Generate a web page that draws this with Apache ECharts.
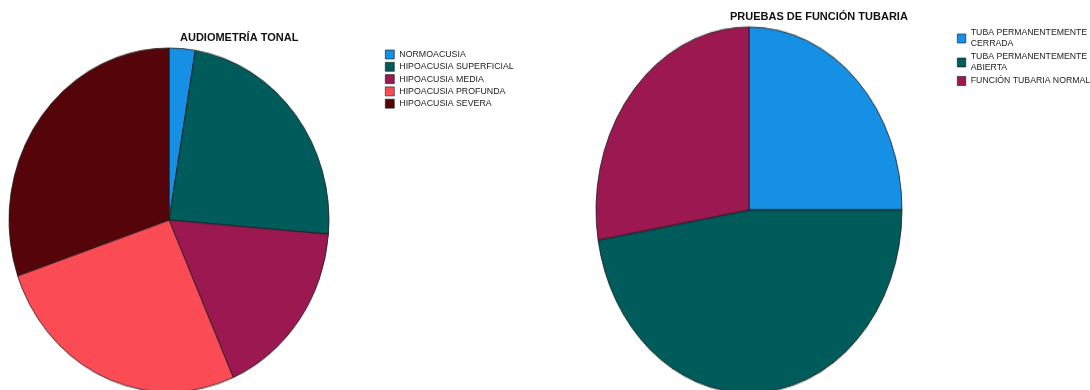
<!DOCTYPE html>
<html>
<head>
<meta charset="utf-8">
<script src="https://cdn.jsdelivr.net/npm/echarts@6/dist/echarts.min.js"></script>
<style>
  html, body { margin: 0; padding: 0; background: #ffffff; }
  #stage { position: relative; width: 1090px; height: 390px; overflow: hidden; }
  .pie { position: absolute; transform-origin: 50% 50%; }
  #pieA { left: -1px; top: 50px; width: 340px; height: 340px; transform: scaleY(1.075); }
  #pieB { left: 589px; top: 50px; width: 320px; height: 320px; transform: scaleY(1.196); }
  #overlay { position: absolute; left: 0; top: 0; width: 1090px; height: 390px; pointer-events: none; }
</style>
</head>
<body>
<div id="stage">
  <div id="pieA" class="pie"></div>
  <div id="pieB" class="pie"></div>
  <div id="overlay"></div>
</div>
<script>
// Audiometría tonal (number of cases per category)
const audioCategories = ['NORMOACUSIA', 'HIPOACUSIA SUPERFICIAL', 'HIPOACUSIA MEDIA', 'HIPOACUSIA PROFUNDA', 'HIPOACUSIA SEVERA'];
const audioValues = [2, 18, 13, 20, 23];
const audioColors = ['#1590e4', '#005b5b', '#9b1850', '#fb4c56', '#55050a'];

// Pruebas de función tubaria (number of cases per category)
const tubaCategories = ['TUBA PERMANENTEMENTE\nCERRADA', 'TUBA PERMANENTEMENTE\nABIERTA', 'FUNCIÓN TUBARIA NORMAL'];
const tubaValues = [19, 36, 21];
const tubaColors = ['#1590e4', '#005b5b', '#9b1850'];

const titles = ['AUDIOMETRÍA TONAL', 'PRUEBAS DE FUNCIÓN TUBARIA'];

const FONT = '"Liberation Sans", Arial, sans-serif';

function toData(names, values, colors) {
  return names.map((n, i) => ({ name: n, value: values[i], itemStyle: { color: colors[i] } }));
}

function pieSeries(names, values, colors, extra) {
  return Object.assign({
    type: 'pie',
    startAngle: 90,
    clockwise: true,
    label: { show: false },
    labelLine: { show: false },
    emphasis: { disabled: true },
    animation: false,
    itemStyle: { borderColor: '#1a1a1a', borderWidth: 0.8 },
    data: toData(names, values, colors)
  }, extra);
}

// Visible pies (each in its own container, stretched vertically by CSS)
const chartA = echarts.init(document.getElementById('pieA'), null, { renderer: 'canvas' });
chartA.setOption({
  animation: false,
  series: [pieSeries(audioCategories, audioValues, audioColors, { center: [170, 170], radius: 160 })]
});

const chartB = echarts.init(document.getElementById('pieB'), null, { renderer: 'canvas' });
chartB.setOption({
  animation: false,
  series: [pieSeries(tubaCategories, tubaValues, tubaColors, { center: [160, 160], radius: 153 })]
});

// Titles and legends on an undistorted layer; its pie series only feed the legends
const overlay = echarts.init(document.getElementById('overlay'));
overlay.setOption({
  animation: false,
  title: [
    { text: titles[0], left: 180, top: 31, padding: 0,
      textStyle: { fontFamily: FONT, fontSize: 11, fontWeight: 'bold', color: '#111', lineHeight: 13 } },
    { text: titles[1], left: 730, top: 10.5, padding: 0,
      textStyle: { fontFamily: FONT, fontSize: 11, fontWeight: 'bold', color: '#111', lineHeight: 13 } }
  ],
  legend: [
    {
      data: audioCategories,
      orient: 'vertical',
      left: 385, top: 48.5, padding: 0,
      itemWidth: 9, itemHeight: 9, itemGap: 0.3,
      icon: 'rect',
      selectedMode: false,
      itemStyle: { borderColor: '#1a1a1a', borderWidth: 0.6 },
      textStyle: { fontFamily: FONT, fontSize: 8.8, color: '#222', lineHeight: 12 }
    },
    {
      data: tubaCategories,
      orient: 'vertical',
      left: 957, top: 27.5, padding: 0,
      itemWidth: 8.5, itemHeight: 9, itemGap: 2,
      icon: 'rect',
      selectedMode: false,
      itemStyle: { borderColor: '#1a1a1a', borderWidth: 0.6 },
      textStyle: { fontFamily: FONT, fontSize: 8.7, color: '#222', lineHeight: 11 }
    }
  ],
  series: [
    pieSeries(audioCategories, audioValues, audioColors, { center: [-500, -500], radius: 1, silent: true }),
    pieSeries(tubaCategories, tubaValues, tubaColors, { center: [-500, -500], radius: 1, silent: true })
  ]
});
</script>
</body>
</html>
